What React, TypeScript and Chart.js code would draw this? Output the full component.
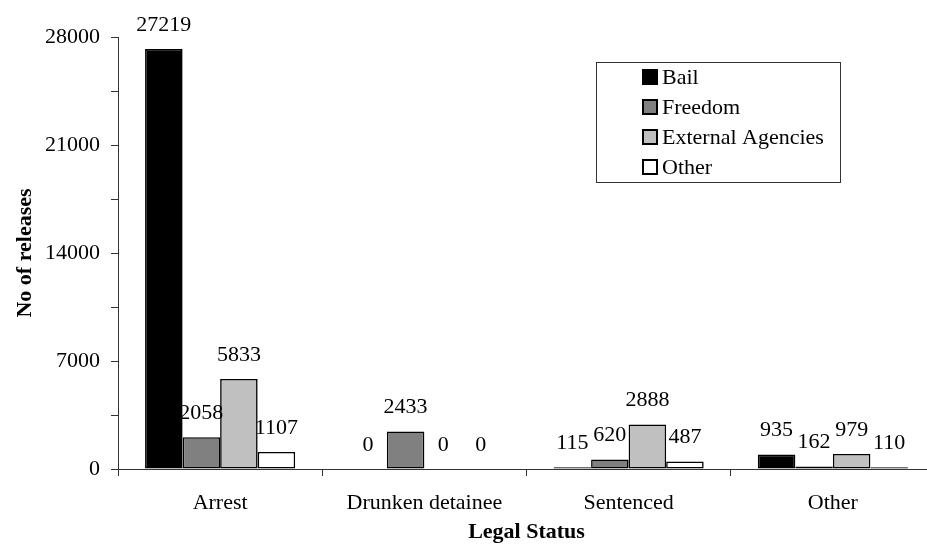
import React, { useEffect, useRef } from 'react';
import { Chart, registerables } from 'chart.js';

Chart.register(...registerables);

const categories = ['Arrest', 'Drunken detainee', 'Sentenced', 'Other'];
const seriesNames = ['Bail', 'Freedom', 'External Agencies', 'Other'];
const bail = [27219, 0, 115, 935];
const freedom = [2058, 2433, 620, 162];
const external = [5833, 0, 2888, 979];
const other = [1107, 0, 487, 110];
const seriesValues = [bail, freedom, external, other];
const seriesColors = ['#000000', '#808080', '#c0c0c0', '#ffffff'];
const yMin = 0;
const yMax = 28000;
const yMinorStep = 3500;
const yLabelStep = 7000;
const xTitle = 'Legal Status';
const yTitle = 'No of releases';

const FONT = "'Liberation Serif', 'Times New Roman', serif";

const valueLabels = {
  id: 'valueLabels',
  afterDatasetsDraw(chart: any) {
    const ctx = chart.ctx;
    ctx.save();
    ctx.font = `22px ${FONT}`;
    ctx.fillStyle = '#000';
    ctx.textAlign = 'center';
    ctx.textBaseline = 'middle';
    chart.data.datasets.forEach((ds: any, di: number) => {
      const meta = chart.getDatasetMeta(di);
      meta.data.forEach((el: any, i: number) => {
        ctx.fillText(String(ds.data[i]), el.x, el.y - 24);
      });
    });
    ctx.restore();
  },
};

const boxLegend = {
  id: 'boxLegend',
  afterDraw(chart: any) {
    const ctx = chart.ctx;
    ctx.save();
    ctx.strokeStyle = '#333';
    ctx.lineWidth = 1;
    ctx.fillStyle = '#fff';
    ctx.fillRect(596.5, 62.5, 244, 120);
    ctx.strokeRect(596.5, 62.5, 244, 120);
    ctx.font = `22px ${FONT}`;
    ctx.textAlign = 'left';
    ctx.textBaseline = 'middle';
    chart.data.datasets.forEach((ds: any, i: number) => {
      const cy = 77 + i * 30;
      ctx.fillStyle = ds.backgroundColor;
      ctx.fillRect(642, cy - 8, 16, 16);
      ctx.strokeStyle = '#000';
      ctx.lineWidth = 2;
      ctx.strokeRect(643, cy - 7, 14, 14);
      ctx.fillStyle = '#000';
      ctx.fillText(ds.label, 662, cy + 1);
    });
    ctx.restore();
  },
};

export default function App() {
  const ref = useRef<HTMLCanvasElement>(null);
  useEffect(() => {
    document.body.style.margin = '0';
    const chart = new Chart(ref.current as HTMLCanvasElement, {
      type: 'bar',
      data: {
        labels: categories,
        datasets: seriesNames.map((name, i) => ({
          label: name,
          data: seriesValues[i],
          backgroundColor: seriesColors[i],
          borderColor: '#000',
          borderWidth: 1.6,
          borderSkipped: false,
          categoryPercentage: 0.735,
          barPercentage: 1,
        })),
      },
      options: {
        animation: false,
        responsive: false,
        maintainAspectRatio: false,
        layout: { padding: { left: 0, top: 37, right: 0, bottom: 0 } },
        plugins: {
          legend: { display: false },
          tooltip: { enabled: false },
        },
        scales: {
          x: {
            offset: true,
            afterFit: (s: any) => { s.height = 79; },
            grid: {
              display: true,
              offset: true,
              drawOnChartArea: false,
              drawTicks: true,
              tickLength: 7,
              color: '#333',
            },
            border: { display: true, color: '#333', width: 1 },
            ticks: {
              autoSkip: false,
              maxRotation: 0,
              padding: 14,
              color: '#000',
              font: { family: FONT, size: 22 },
            },
            title: {
              display: true,
              text: xTitle,
              color: '#000',
              font: { family: FONT, size: 22, weight: 'bold' },
              padding: { top: 0, bottom: 2 },
            },
          },
          y: {
            min: yMin,
            max: yMax,
            afterFit: (s: any) => { s.width = 118; },
            grid: {
              display: true,
              drawOnChartArea: false,
              drawTicks: true,
              tickLength: 7,
              color: '#333',
            },
            border: { display: true, color: '#333', width: 1 },
            ticks: {
              stepSize: yMinorStep,
              autoSkip: false,
              padding: 11,
              color: '#000',
              font: { family: FONT, size: 22 },
              callback: (v: any) => (Number(v) % yLabelStep === 0 ? String(v) : ''),
            },
            title: {
              display: true,
              text: yTitle,
              color: '#000',
              font: { family: FONT, size: 22, weight: 'bold' },
              padding: { top: 12, bottom: 0 },
            },
          },
        },
      },
      plugins: [valueLabels, boxLegend],
    });
    return () => chart.destroy();
  }, []);
  return (
    <div style={{ position: 'fixed', left: 0, top: 0, width: 935, height: 548 }}>
      <canvas ref={ref} width={935} height={548} style={{ width: 935, height: 548, display: 'block' }} />
    </div>
  );
}
